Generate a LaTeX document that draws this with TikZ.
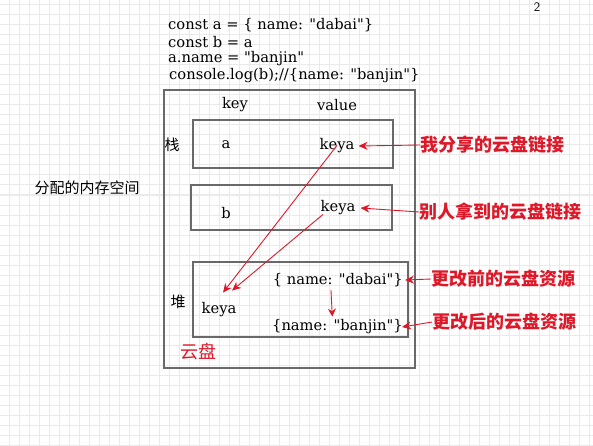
\documentclass[tikz,border=0pt]{standalone}
\usepackage{fontspec}
\newfontfamily\cjk{Noto Sans CJK SC}
\newfontfamily\codefont{DejaVu Serif}
\usetikzlibrary{arrows.meta}
\definecolor{linkred}{RGB}{222,24,40}
\definecolor{boxgray}{RGB}{105,105,105}
\definecolor{gridgray}{RGB}{234,234,234}
\newcommand{\qt}{\textquotedbl}

\begin{document}
\begin{tikzpicture}[x=1pt,y=-1pt,
    box/.style={draw=boxgray, line width=2pt},
    redarrow/.style={linkred, line width=0.9pt, -{Stealth[length=9pt,width=8pt]}},
    code/.style={font=\codefont\fontsize{14.7}{16}\selectfont, inner sep=0pt},
    han/.style={font=\cjk\fontsize{15}{17}\selectfont, inner sep=0pt},
    tag/.style={text=linkred, font=\cjk\bfseries\fontsize{18}{20}\selectfont, inner sep=0pt, anchor=west}]
            \useasboundingbox (0,0) rectangle (593,446);
            \fill[white] (0,0) rectangle (593,446);
            \foreach \gx in {9,19,...,589} \draw[gridgray, line width=1pt] (\gx,0) -- (\gx,446);
            \foreach \gy in {5,15,...,445} \draw[gridgray, line width=1pt] (0,\gy) -- (593,\gy);
            \node[font=\sffamily\fontsize{13}{15}\selectfont, inner sep=0pt] (page) at (537,7) {2};

            \node[code, anchor=west] (line1) at (168,25) {const a = \{ name: \qt dabai\qt\}};
            \node[code, anchor=west] (line2) at (168,42) {const b = a};
            \node[code, anchor=west] (line3) at (168,59) {a.name = \qt banjin\qt};
            \node[code, anchor=west] (line4) at (169,76) {console.log(b);//\{name: \qt banjin\qt\}};

            \draw[box] (164,90) rectangle (415,368);
            \draw[box] (193,120) rectangle (393,168);
            \draw[box] (191,185) rectangle (392,230);
            \draw[box] (193,262) rectangle (408,337);

            \node[code] (key) at (235,105) {key};
            \node[code] (value) at (337,105) {value};
            \node[han] (stack) at (172,145) {栈};
            \node[han] (heap) at (178,302) {堆};
            \node[han] (memory) at (87,188) {分配的内存空间};
            \node[han, text=linkred, font=\cjk\fontsize{18}{20}\selectfont] (pan) at (198,352) {云盘};

            \node[code] (nameA) at (226,145) {a};
            \node[code] (keyA) at (337,146) {keya};
            \node[code] (nameB) at (226,213) {b};
            \node[code] (keyB) at (338,208) {keya};
            \node[code] (keyH) at (219,310) {keya};
            \node[code, anchor=east] (dabai) at (403,280) {\{ name: \qt dabai\qt\}};
            \node[code, anchor=east] (banjin) at (403,327) {\{name: \qt banjin\qt\}};

            \node[tag] (share) at (420,145) {我分享的云盘链接};
            \node[tag] (got) at (419,212) {别人拿到的云盘链接};
            \node[tag] (before) at (431,279) {更改前的云盘资源};
            \node[tag] (after) at (432,322) {更改后的云盘资源};

            \draw[redarrow] (share.west) -- ([xshift=4pt]keyA.east);
            \draw[redarrow] (got.west) -- ([xshift=5pt]keyB.east);
            \draw[redarrow] (before.west) -- ([xshift=2pt]dabai.east);
            \draw[redarrow] (after.west) -- ([xshift=-1pt]banjin.east);
            \draw[redarrow] ([shift={(0,-8)}]keyA.south) -- ([shift={(4,-10)}]keyH.north);
            \draw[redarrow] ([shift={(-15,-1)}]keyB.south) -- ([shift={(13,-12)}]keyH.north);
            \draw[redarrow, -{Stealth[length=8pt,width=8pt]}, shorten <=3pt, shorten >=3pt] ([xshift=-7pt]dabai.south) -- ([xshift=-5pt]banjin.north);
        \end{tikzpicture}
\end{document}
